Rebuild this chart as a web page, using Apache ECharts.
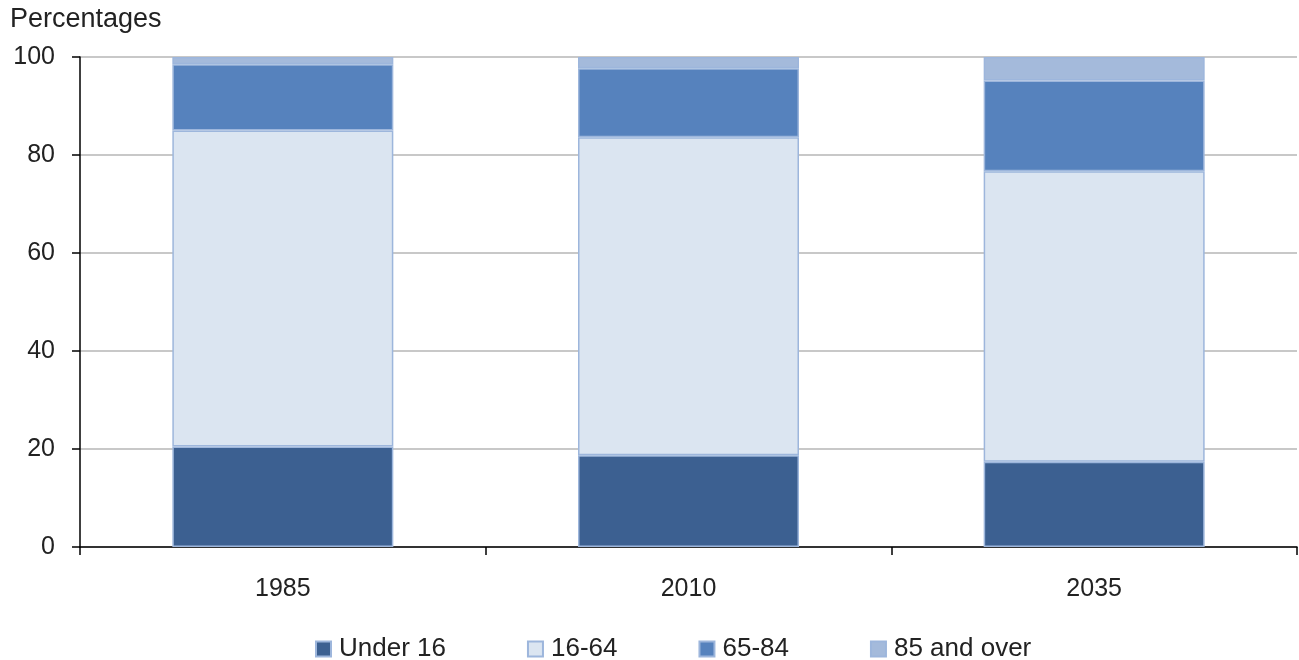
<!DOCTYPE html>
<html>
<head>
<meta charset="utf-8">
<script src="https://cdn.jsdelivr.net/npm/echarts@6/dist/echarts.min.js"></script>
<style>
html,body{margin:0;padding:0;background:#fff;}
#chart{width:1299px;height:660px;}
</style>
</head>
<body>
<div id="chart"></div>
<script>
const categories = ['1985', '2010', '2035'];
const seriesNames = ['Under 16', '16-64', '65-84', '85 and over'];
const under16 = [20.5, 18.7, 17.4];
const age16to64 = [64.5, 64.9, 59.3];
const age65to84 = [13.5, 14.1, 18.5];
const age85plus = [1.5, 2.3, 4.8];
const colors = ['#3c6091', '#dbe5f1', '#5682bd', '#a4badb'];
const yTicks = [0, 20, 40, 60, 80, 100];

const values = [under16, age16to64, age65to84, age85plus];
const font = '"Liberation Sans", Arial, sans-serif';

const chart = echarts.init(document.getElementById('chart'), null, {renderer: 'canvas'});
chart.setOption({
  animation: false,
  backgroundColor: '#fff',
  textStyle: {fontFamily: font},
  graphic: [{
    type: 'text', left: 10, top: 6,
    style: {text: 'Percentages', fontSize: 27, fill: '#222', fontFamily: font}
  }],
  grid: {left: 80, right: 2, top: 57, bottom: 113, containLabel: false},
  legend: {
    bottom: -7, left: 310,
    itemWidth: 15, itemHeight: 15, itemGap: 81,
    icon: 'rect',
    textStyle: {fontSize: 26, color: '#222', fontFamily: font, padding: [0, 0, 0, 3]},
    data: seriesNames
  },
  xAxis: {
    type: 'category', data: categories, boundaryGap: true,
    axisLine: {lineStyle: {color: '#000', width: 1.5}},
    axisTick: {show: true, length: 8, alignWithLabel: false, lineStyle: {color: '#000', width: 1.5}},
    axisLabel: {fontSize: 25, color: '#222', margin: 30, fontFamily: font},
    splitLine: {show: false}
  },
  yAxis: {
    type: 'value', min: 0, max: 100, interval: 20,
    axisLine: {show: true, lineStyle: {color: '#000', width: 1.5}},
    axisTick: {show: true, length: 8, lineStyle: {color: '#000', width: 1.5}},
    axisLabel: {fontSize: 25, color: '#222', margin: 25, fontFamily: font,
      formatter: v => yTicks.includes(v) ? String(v) : ''},
    splitLine: {show: true, lineStyle: {color: '#c8c8c8', width: 2}}
  },
  series: seriesNames.map((name, i) => ({
    name, type: 'bar', stack: 'total', data: values[i], barWidth: 221,
    itemStyle: {color: colors[i], borderColor: '#9db6dc', borderWidth: 1.5},
    emphasis: {disabled: true}
  }))
});
</script>
</body>
</html>
